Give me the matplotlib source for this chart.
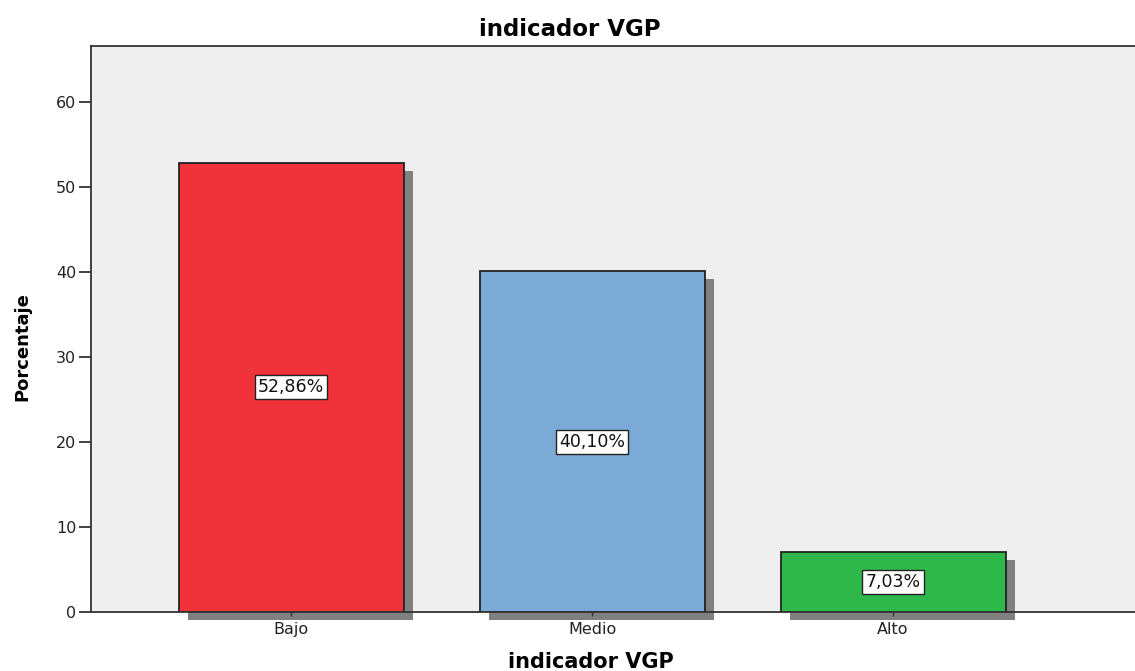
import matplotlib
matplotlib.use("Agg")
import matplotlib.pyplot as plt

categories = ["Bajo", "Medio", "Alto"]
values = [52.86, 40.10, 7.03]
value_labels = ["52,86%", "40,10%", "7,03%"]
colors = ["#F0323A", "#7BAAD7", "#2EB84C"]
yticks = [0, 10, 20, 30, 40, 50, 60]

plt.rcParams['font.family'] = ['DejaVu Sans']

W, H = 1135, 671
fig = plt.figure(figsize=(W / 100, H / 100), dpi=100)
ax_left, ax_right = 91 / W, 1140 / W
ax_bottom, ax_top = (H - 612) / H, (H - 46) / H
ax = fig.add_axes([ax_left, ax_bottom, ax_right - ax_left, ax_top - ax_bottom])
ax.set_facecolor("#EFEFEF")

# pixel geometry: centers at 291, 592, 893 -> spacing 301 px
px_per_unit_x = 301.0
xmin = -(291 - 91) / px_per_unit_x
xmax = xmin + (1140 - 91) / px_per_unit_x
ax.set_xlim(xmin, xmax)
ymax = (612 - 46) / 8.5
ax.set_ylim(0, ymax)

x = list(range(len(categories)))
width = 225 / px_per_unit_x
sdx = 9 / px_per_unit_x
sdy = 8 / 8.5

# shadows
ax.bar([xi + sdx for xi in x], values, width=width, bottom=-sdy,
       color="#808080", edgecolor="none", zorder=1, clip_on=False)
# bars
ax.bar(x, values, width=width, color=colors, edgecolor="#222222",
       linewidth=1.3, zorder=2)

for xi, v, lab in zip(x, values, value_labels):
    ax.text(xi, v / 2, lab, ha="center", va="center", fontsize=12.5,
            zorder=4, color="#111111",
            bbox=dict(boxstyle="square,pad=0.17", facecolor="white",
                      edgecolor="#222222", linewidth=1.0))

ax.set_xticks(x)
ax.set_xticklabels(categories, fontsize=11.5, color="#222222")
ax.set_yticks(yticks)
ax.set_yticklabels([str(t) for t in yticks], fontsize=11.5, color="#222222")
ax.tick_params(axis="y", length=9, width=1.3, color="#333333", pad=1.5)
ax.tick_params(axis="x", length=3, width=1, color="#333333", pad=4)

for side in ["left", "top", "right", "bottom"]:
    ax.spines[side].set_color("#333333")
    ax.spines[side].set_linewidth(1.3)
ax.spines["right"].set_visible(False)

fig.text(570 / W, 1 - 29 / H, "indicador VGP", ha="center", va="center",
         fontsize=16.5, fontweight="bold")
fig.text(591 / W, 1 - 662 / H, "indicador VGP", ha="center", va="center",
         fontsize=15, fontweight="bold")
fig.text(22 / W, 1 - 347 / H, "Porcentaje", ha="center", va="center",
         fontsize=13, fontweight="bold", rotation=90)

fig.savefig("out.png", dpi=100)
